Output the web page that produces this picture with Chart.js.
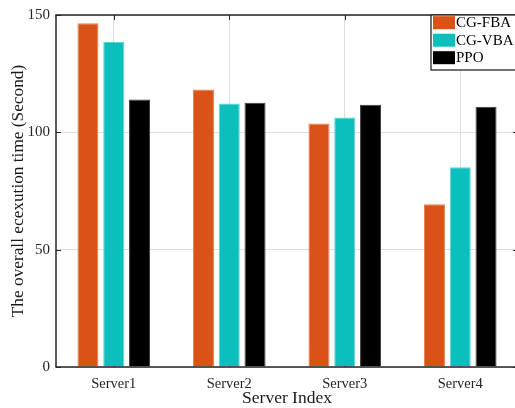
<!DOCTYPE html>
<html>
<head>
<meta charset="utf-8">
<script src="https://cdn.jsdelivr.net/npm/chart.js@4/dist/chart.umd.min.js"></script>
<style>
  html, body { margin: 0; padding: 0; background: #fff; overflow: hidden; }
  #wrap { width: 530px; height: 408px; }
</style>
</head>
<body>
<div id="wrap"><canvas id="c" width="530" height="408"></canvas></div>
<script>
// Categories and series
const servers = ['Server1', 'Server2', 'Server3', 'Server4'];
const cgFBA = [146.5, 118.3, 103.8, 69.4];
const cgVBA = [138.5, 112.3, 106.3, 85.1];
const ppo   = [114.0, 112.6, 111.8, 110.9];
const seriesNames = ['CG-FBA', 'CG-VBA', 'PPO'];
const yTicks = [0, 50, 100, 150];

const SERIF = '"Liberation Serif", "Times New Roman", serif';
const AXIS_COLOR = '#262626';

// Box frame, inward tick marks, in-axes legend and axis titles
const matlabAxes = {
  id: 'matlabAxes',
  beforeDatasetsDraw(chart) {
    const { ctx, chartArea: a, scales: { x, y } } = chart;
    const len = 5;
    ctx.save();
    ctx.strokeStyle = AXIS_COLOR;
    ctx.lineWidth = 1;
    ctx.beginPath();
    servers.forEach((_, i) => {
      const px = Math.round(x.getPixelForValue(i)) + 0.5;
      ctx.moveTo(px, a.top); ctx.lineTo(px, a.top + len);
      ctx.moveTo(px, a.bottom); ctx.lineTo(px, a.bottom - len);
    });
    yTicks.forEach(v => {
      const py = Math.round(y.getPixelForValue(v)) + 0.5;
      ctx.moveTo(a.left, py); ctx.lineTo(a.left + len, py);
      ctx.moveTo(a.right, py); ctx.lineTo(a.right - len, py);
    });
    ctx.stroke();
    ctx.restore();
  },
  afterDatasetsDraw(chart) {
    const { ctx, chartArea: a } = chart;
    ctx.save();
    ctx.strokeStyle = AXIS_COLOR;
    ctx.lineWidth = 1.5;
    ctx.strokeRect(a.left, a.top, a.right - a.left, a.bottom - a.top);

    // legend box in the upper-right corner
    const lx = 431, ly = a.top, lw = 120, lh = 55;
    ctx.fillStyle = '#fff';
    ctx.fillRect(lx, ly, lw, lh);
    ctx.lineWidth = 1.3;
    ctx.strokeRect(lx, ly, lw, lh);
    ctx.font = '15px ' + SERIF;
    ctx.textBaseline = 'middle';
    ctx.textAlign = 'left';
    chart.data.datasets.forEach((ds, i) => {
      const cy = 22.7 + i * 17.5;
      ctx.fillStyle = ds.backgroundColor;
      ctx.fillRect(lx + 2, cy - 6.5, 22, 13);
      ctx.fillStyle = '#000';
      ctx.fillText(ds.label, lx + 25, cy + 0.5);
    });
    ctx.restore();
  },
  afterDraw(chart) {
    const { ctx, chartArea: a } = chart;
    ctx.save();
    ctx.fillStyle = '#1a1a1a';
    ctx.textAlign = 'center';
    ctx.textBaseline = 'middle';
    ctx.font = '17.5px ' + SERIF;
    ctx.fillText('Server Index', (a.left + a.right) / 2, 398);
    ctx.translate(18, (a.top + a.bottom) / 2);
    ctx.rotate(-Math.PI / 2);
    ctx.font = '17.3px ' + SERIF;
    ctx.fillText('The overall ecexution time (Second)', 0, 0);
    ctx.restore();
  }
};

new Chart(document.getElementById('c'), {
  type: 'bar',
  data: {
    labels: servers,
    datasets: [
      { label: seriesNames[0], data: cgFBA, backgroundColor: '#D95319', borderColor: '#E5804F', borderWidth: 1 },
      { label: seriesNames[1], data: cgVBA, backgroundColor: '#0BBFBD', borderColor: '#5AD6D4', borderWidth: 1 },
      { label: seriesNames[2], data: ppo,   backgroundColor: '#000000', borderColor: '#3a3a3a', borderWidth: 1 }
    ]
  },
  options: {
    responsive: false,
    devicePixelRatio: 1,
    animation: false,
    layout: { padding: { left: 0, top: 13, right: 12, bottom: 0 } },
    datasets: { bar: { categoryPercentage: 0.67, barPercentage: 0.815 } },
    plugins: { legend: { display: false }, tooltip: { enabled: false } },
    scales: {
      x: {
        offset: true,
        grid: { offset: false, color: '#dddddd', lineWidth: 1, drawTicks: false },
        border: { display: false },
        ticks: { color: AXIS_COLOR, font: { family: SERIF, size: 14.5 }, padding: 8 },
        afterFit(s) { s.height = 41; }
      },
      y: {
        min: 0, max: 150,
        afterBuildTicks(s) { s.ticks = yTicks.map(v => ({ value: v })); },
        grid: { color: '#dddddd', lineWidth: 1, drawTicks: false },
        border: { display: false },
        ticks: { color: AXIS_COLOR, font: { family: SERIF, size: 15 }, padding: 6 },
        afterFit(s) { s.width = 56; }
      }
    }
  },
  plugins: [matlabAxes]
});
</script>
</body>
</html>
